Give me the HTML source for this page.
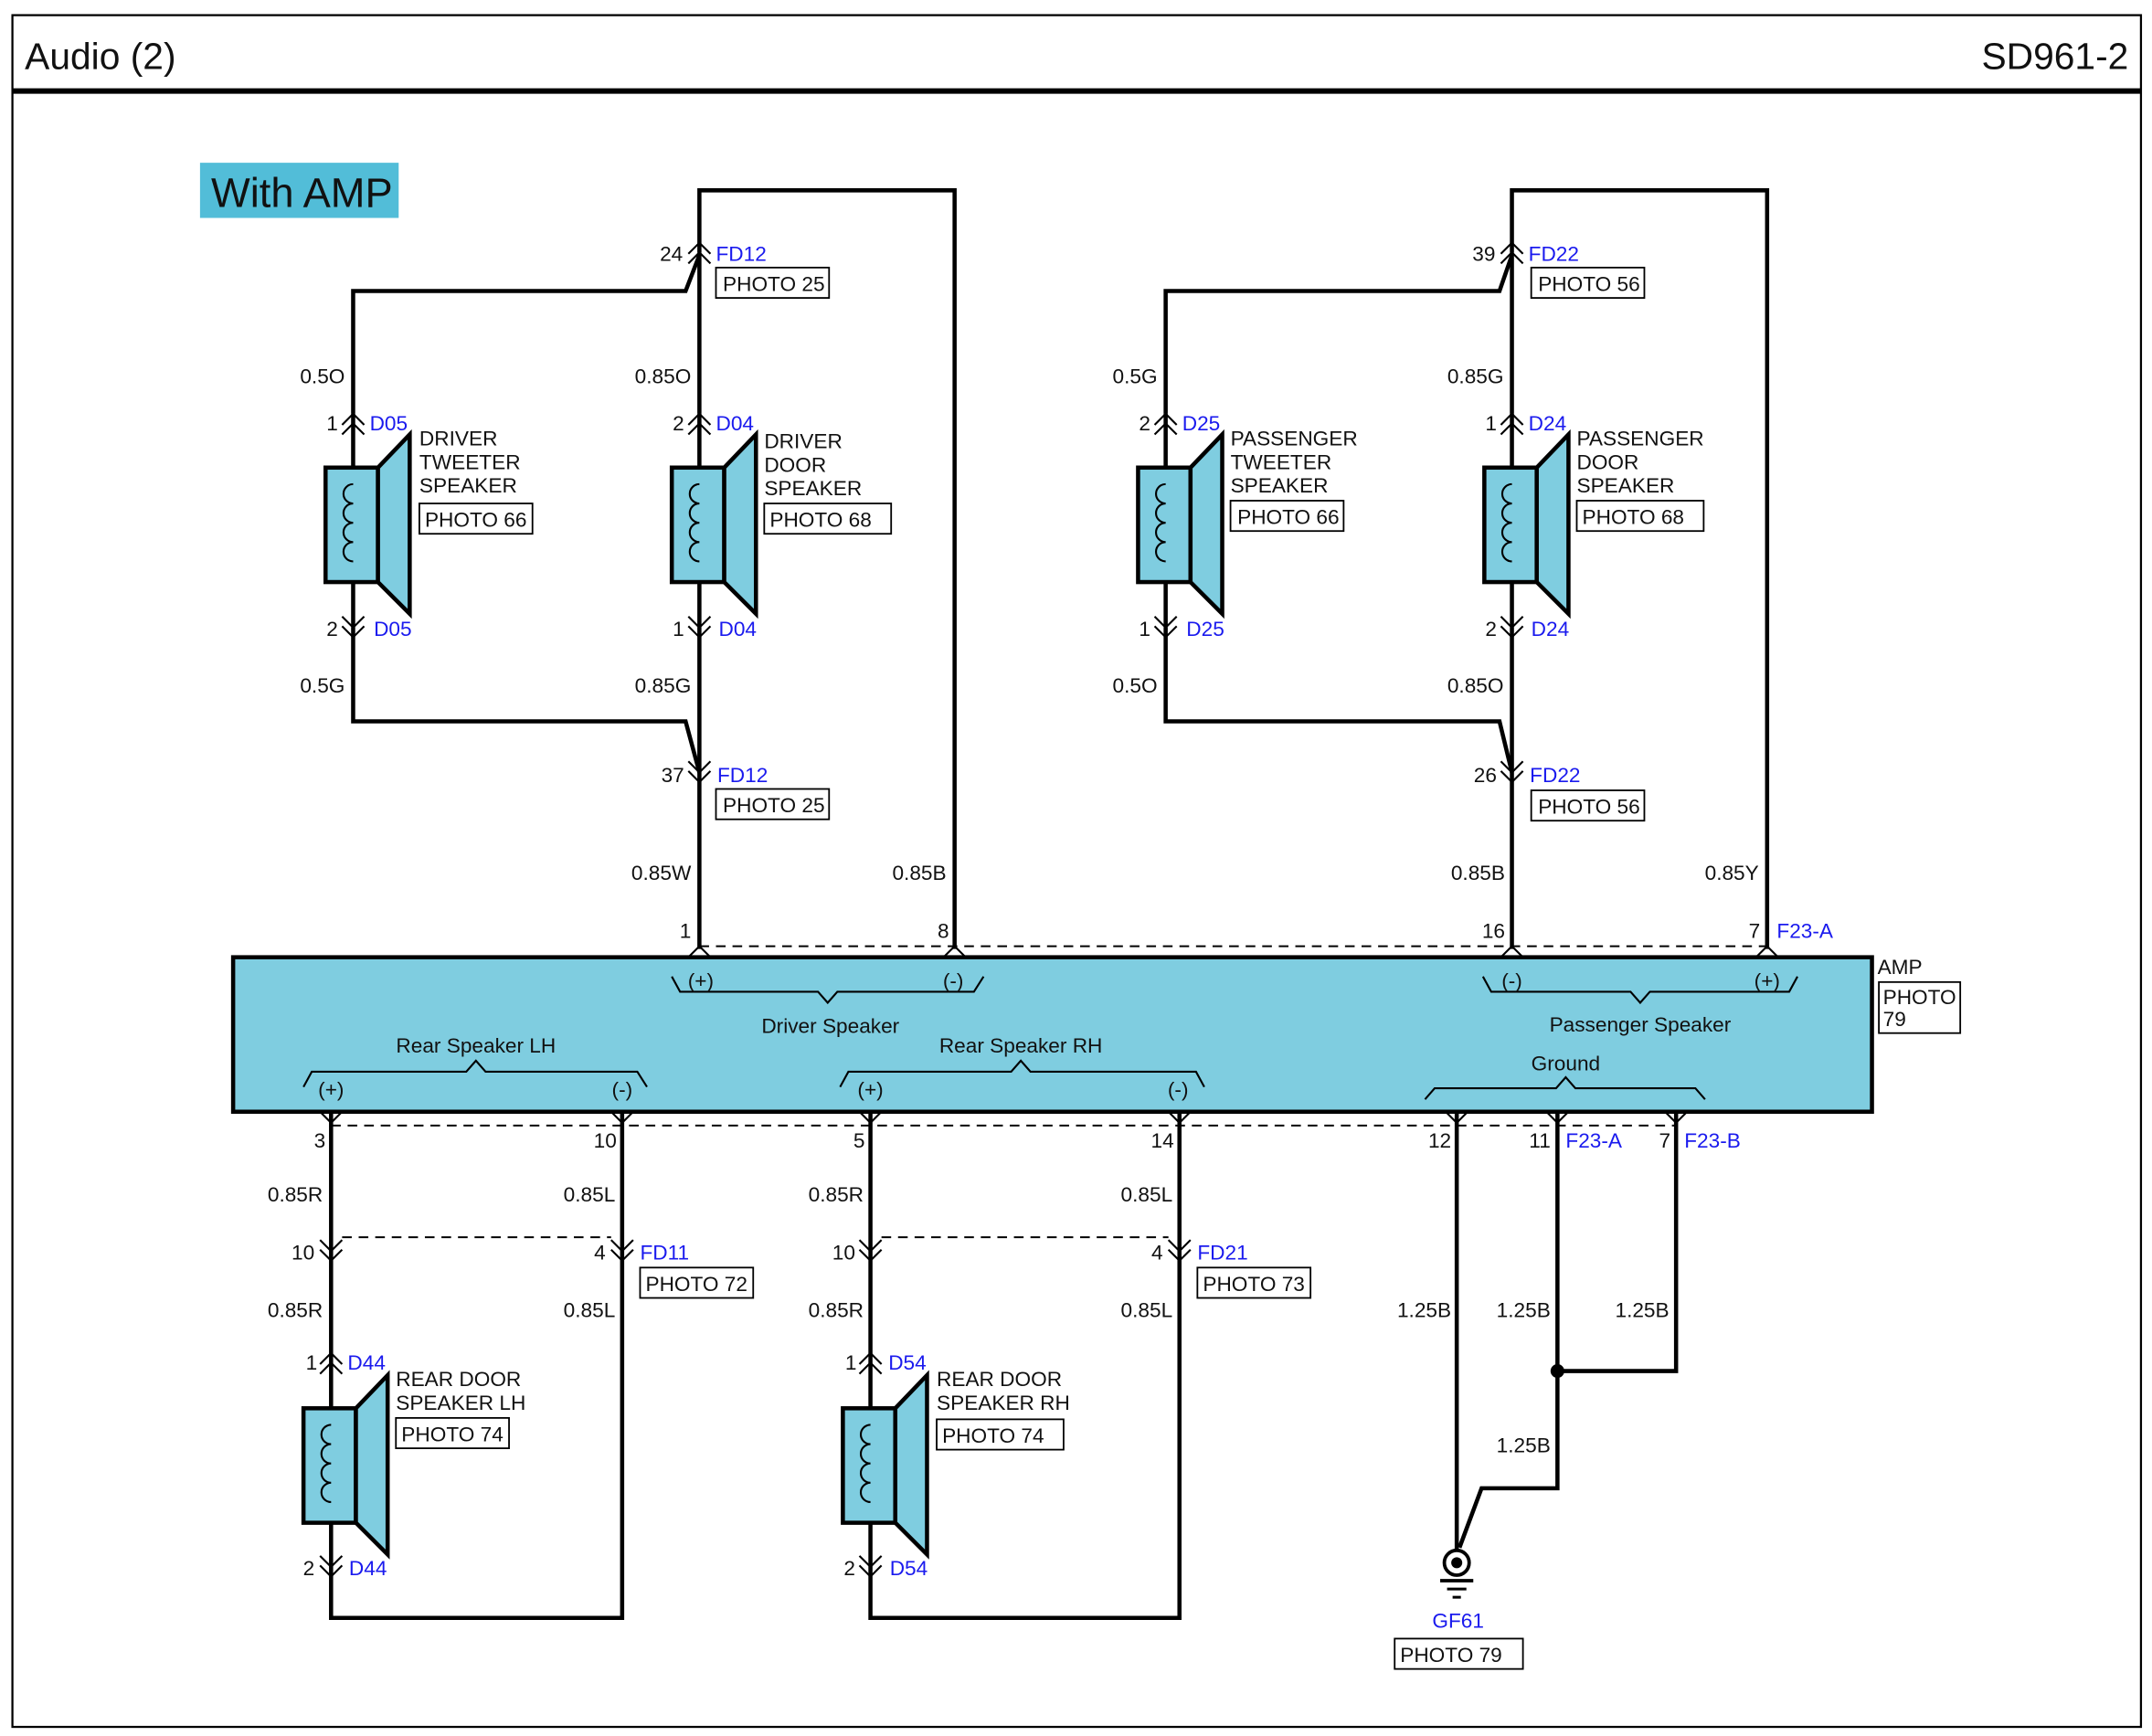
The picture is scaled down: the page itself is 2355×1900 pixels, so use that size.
<!DOCTYPE html>
<html><head><meta charset="utf-8"><style>
html,body{margin:0;padding:0;background:#fff}
svg{display:block}
text{font-family:"Liberation Sans",sans-serif;font-size:15px;fill:#111}
.b{fill:#1a1aee}
.w{fill:none;stroke:#000;stroke-width:3}
.t{fill:none;stroke:#000;stroke-width:1.4}
.d{fill:none;stroke:#000;stroke-width:1.3;stroke-dasharray:7 5}
.bx{fill:#fff;stroke:#000;stroke-width:1.2}
.r{text-anchor:end}
.m{text-anchor:middle}
</style></head><body>
<svg width="2355" height="1900" viewBox="0 0 1560 1258.6" preserveAspectRatio="none" xmlns="http://www.w3.org/2000/svg">
<defs>
<g id="up"><polyline class="t" points="-8,8 0,0 8,8"/><polyline class="t" points="-8,15 0,7 8,15"/></g>
<g id="dn"><polyline class="t" points="-8,-15 0,-7 8,-15"/><polyline class="t" points="-8,-8 0,0 8,-8"/></g>
<g id="spk">
<rect x="-20" y="0" width="38" height="83" fill="#7fcde0" stroke="#000" stroke-width="3"/>
<polygon points="18,0 41,-24 41,106 18,83" fill="#7fcde0" stroke="#000" stroke-width="3"/>
<path class="t" d="M0,12 a7,7 0 0 0 0,14 a7,7 0 0 0 0,14 a7,7 0 0 0 0,14 a7,7 0 0 0 0,14"/>
</g>
</defs>
<rect x="9" y="11" width="1543" height="1241" fill="none" stroke="#000" stroke-width="1.5"/>
<line x1="9" y1="66" x2="1552" y2="66" stroke="#000" stroke-width="4"/>
<text x="18" y="50" style="font-size:27px">Audio (2)</text>
<text x="1543" y="50" class="r" style="font-size:27px">SD961-2</text>
<rect x="145" y="118" width="144" height="40" fill="#52bdd8"/>
<text x="153" y="150" style="font-size:30px">With AMP</text>

<!-- DRIVER -->
<polyline class="w" points="256,300 256,211 497,211 507,185"/>
<polyline class="w" points="507,183 507,138 692,138 692,688"/>
<line class="w" x1="507" y1="183" x2="507" y2="300"/>
<polyline class="w" points="256,455 256,523 497,523 507,560"/>
<line class="w" x1="507" y1="455" x2="507" y2="688"/>
<line class="w" x1="256" y1="300" x2="256" y2="455"/>
<line class="w" x1="507" y1="300" x2="507" y2="455"/>
<use href="#spk" x="256" y="339"/>
<use href="#spk" x="507" y="339"/>
<use href="#up" x="256" y="300"/><use href="#up" x="507" y="300"/>
<use href="#dn" x="256" y="462"/><use href="#dn" x="507" y="462"/>
<use href="#up" x="507" y="176"/><use href="#dn" x="507" y="567"/>
<text x="495" y="189" class="r">24</text><text x="519" y="189" class="b">FD12</text>
<rect class="bx" x="519" y="194" width="82" height="22"/><text x="524" y="211">PHOTO 25</text>
<text x="250" y="278" class="r">0.5O</text><text x="501" y="278" class="r">0.85O</text>
<text x="245" y="312" class="r">1</text><text x="268" y="312" class="b">D05</text>
<text x="496" y="312" class="r">2</text><text x="519" y="312" class="b">D04</text>
<text x="245" y="461" class="r">2</text><text x="271" y="461" class="b">D05</text>
<text x="496" y="461" class="r">1</text><text x="521" y="461" class="b">D04</text>
<text x="250" y="502" class="r">0.5G</text><text x="501" y="502" class="r">0.85G</text>
<text x="496" y="567" class="r">37</text><text x="520" y="567" class="b">FD12</text>
<rect class="bx" x="519" y="572" width="82" height="22"/><text x="524" y="589">PHOTO 25</text>
<text x="304" y="323">DRIVER</text><text x="304" y="340">TWEETER</text><text x="304" y="357">SPEAKER</text>
<rect class="bx" x="304" y="365" width="82" height="22"/><text x="308" y="382">PHOTO 66</text>
<text x="554" y="325">DRIVER</text><text x="554" y="342">DOOR</text><text x="554" y="359">SPEAKER</text>
<rect class="bx" x="554" y="365" width="92" height="22"/><text x="558" y="382">PHOTO 68</text>
<text x="501" y="638" class="r">0.85W</text><text x="686" y="638" class="r">0.85B</text>
<text x="501" y="680" class="r">1</text><text x="688" y="680" class="r">8</text>

<!-- PASSENGER -->
<polyline class="w" points="845,300 845,211 1087,211 1096,185"/>
<polyline class="w" points="1096,183 1096,138 1281,138 1281,688"/>
<line class="w" x1="1096" y1="183" x2="1096" y2="300"/>
<polyline class="w" points="845,455 845,523 1087,523 1096,560"/>
<line class="w" x1="1096" y1="455" x2="1096" y2="688"/>
<line class="w" x1="845" y1="300" x2="845" y2="455"/>
<line class="w" x1="1096" y1="300" x2="1096" y2="455"/>
<use href="#spk" x="845" y="339"/>
<use href="#spk" x="1096" y="339"/>
<use href="#up" x="845" y="300"/><use href="#up" x="1096" y="300"/>
<use href="#dn" x="845" y="462"/><use href="#dn" x="1096" y="462"/>
<use href="#up" x="1096" y="176"/><use href="#dn" x="1096" y="567"/>
<text x="1084" y="189" class="r">39</text><text x="1108" y="189" class="b">FD22</text>
<rect class="bx" x="1110" y="194" width="82" height="22"/><text x="1115" y="211">PHOTO 56</text>
<text x="839" y="278" class="r">0.5G</text><text x="1090" y="278" class="r">0.85G</text>
<text x="834" y="312" class="r">2</text><text x="857" y="312" class="b">D25</text>
<text x="1085" y="312" class="r">1</text><text x="1108" y="312" class="b">D24</text>
<text x="834" y="461" class="r">1</text><text x="860" y="461" class="b">D25</text>
<text x="1085" y="461" class="r">2</text><text x="1110" y="461" class="b">D24</text>
<text x="839" y="502" class="r">0.5O</text><text x="1090" y="502" class="r">0.85O</text>
<text x="1085" y="567" class="r">26</text><text x="1109" y="567" class="b">FD22</text>
<rect class="bx" x="1110" y="573" width="82" height="22"/><text x="1115" y="590">PHOTO 56</text>
<text x="892" y="323">PASSENGER</text><text x="892" y="340">TWEETER</text><text x="892" y="357">SPEAKER</text>
<rect class="bx" x="892" y="363" width="82" height="22"/><text x="897" y="380">PHOTO 66</text>
<text x="1143" y="323">PASSENGER</text><text x="1143" y="340">DOOR</text><text x="1143" y="357">SPEAKER</text>
<rect class="bx" x="1143" y="363" width="92" height="22"/><text x="1147" y="380">PHOTO 68</text>
<text x="1091" y="638" class="r">0.85B</text><text x="1275" y="638" class="r">0.85Y</text>
<text x="1091" y="680" class="r">16</text><text x="1276" y="680" class="r">7</text><text x="1288" y="680" class="b">F23-A</text>

<!-- AMP -->
<line class="d" x1="507" y1="686" x2="1281" y2="686"/>
<rect x="169" y="694" width="1188" height="112" fill="#7fcde0" stroke="#000" stroke-width="3"/>
<polyline class="t" points="499,694 507,686 515,694"/><polyline class="t" points="684,694 692,686 700,694"/>
<polyline class="t" points="1088,694 1096,686 1104,694"/><polyline class="t" points="1273,694 1281,686 1289,694"/>
<text x="1361" y="706">AMP</text>
<rect class="bx" x="1362" y="712" width="59" height="37"/><text x="1365" y="728">PHOTO</text><text x="1365" y="744">79</text>
<polyline class="t" points="487,708 493,719 593,719 600,727 607,719 706,719 713,708"/>
<text x="508" y="716" class="m">(+)</text><text x="691" y="716" class="m">(-)</text>
<text x="602" y="749" class="m">Driver Speaker</text>
<polyline class="t" points="1075,708 1081,719 1182,719 1189,727 1196,719 1297,719 1303,708"/>
<text x="1096" y="716" class="m">(-)</text><text x="1281" y="716" class="m">(+)</text>
<text x="1189" y="748" class="m">Passenger Speaker</text>
<text x="345" y="763" class="m">Rear Speaker LH</text>
<polyline class="t" points="220,788 226,777 338,777 345,769 352,777 462,777 469,788"/>
<text x="240" y="795" class="m">(+)</text><text x="451" y="795" class="m">(-)</text>
<text x="740" y="763" class="m">Rear Speaker RH</text>
<polyline class="t" points="609,788 615,777 733,777 740,769 747,777 867,777 873,788"/>
<text x="631" y="795" class="m">(+)</text><text x="854" y="795" class="m">(-)</text>
<text x="1135" y="776" class="m">Ground</text>
<polyline class="t" points="1033,797 1040,789 1128,789 1135,781 1142,789 1229,789 1236,797"/>

<!-- bottom pins -->
<line class="d" x1="240" y1="816" x2="1215" y2="816"/>
<g class="t">
<polyline class="t" points="232,806 240,814 248,806"/><polyline class="t" points="443,806 451,814 459,806"/>
<polyline class="t" points="623,806 631,814 639,806"/><polyline class="t" points="847,806 855,814 863,806"/>
<polyline class="t" points="1048,806 1056,814 1064,806"/><polyline class="t" points="1121,806 1129,814 1137,806"/>
<polyline class="t" points="1207,806 1215,814 1223,806"/>
</g>
<text x="236" y="832" class="r">3</text><text x="447" y="832" class="r">10</text>
<text x="627" y="832" class="r">5</text><text x="851" y="832" class="r">14</text>
<text x="1052" y="832" class="r">12</text><text x="1124" y="832" class="r">11</text><text x="1135" y="832" class="b">F23-A</text>
<text x="1211" y="832" class="r">7</text><text x="1221" y="832" class="b">F23-B</text>

<!-- rear LH -->
<line class="w" x1="240" y1="806" x2="240" y2="1135"/>
<polyline class="w" points="451,806 451,1173 240,1173 240,1135"/>
<line class="d" x1="248" y1="897" x2="443" y2="897"/>
<use href="#dn" x="240" y="914"/><use href="#dn" x="451" y="914"/>
<text x="234" y="871" class="r">0.85R</text><text x="446" y="871" class="r">0.85L</text>
<text x="228" y="913" class="r">10</text><text x="439" y="913" class="r">4</text><text x="464" y="913" class="b">FD11</text>
<rect class="bx" x="464" y="919" width="82" height="22"/><text x="468" y="936">PHOTO 72</text>
<text x="234" y="955" class="r">0.85R</text><text x="446" y="955" class="r">0.85L</text>
<use href="#spk" x="240" y="1021"/>
<use href="#up" x="240" y="981"/><use href="#dn" x="240" y="1143"/>
<text x="230" y="993" class="r">1</text><text x="252" y="993" class="b">D44</text>
<text x="228" y="1142" class="r">2</text><text x="253" y="1142" class="b">D44</text>
<text x="287" y="1005">REAR DOOR</text><text x="287" y="1022">SPEAKER LH</text>
<rect class="bx" x="287" y="1028" width="82" height="22"/><text x="291" y="1045">PHOTO 74</text>

<!-- rear RH -->
<line class="w" x1="631" y1="806" x2="631" y2="1135"/>
<polyline class="w" points="855,806 855,1173 631,1173 631,1135"/>
<line class="d" x1="639" y1="897" x2="847" y2="897"/>
<use href="#dn" x="631" y="914"/><use href="#dn" x="855" y="914"/>
<text x="626" y="871" class="r">0.85R</text><text x="850" y="871" class="r">0.85L</text>
<text x="620" y="913" class="r">10</text><text x="843" y="913" class="r">4</text><text x="868" y="913" class="b">FD21</text>
<rect class="bx" x="868" y="919" width="82" height="22"/><text x="872" y="936">PHOTO 73</text>
<text x="626" y="955" class="r">0.85R</text><text x="850" y="955" class="r">0.85L</text>
<use href="#spk" x="631" y="1021"/>
<use href="#up" x="631" y="981"/><use href="#dn" x="631" y="1143"/>
<text x="621" y="993" class="r">1</text><text x="644" y="993" class="b">D54</text>
<text x="620" y="1142" class="r">2</text><text x="645" y="1142" class="b">D54</text>
<text x="679" y="1005">REAR DOOR</text><text x="679" y="1022">SPEAKER RH</text>
<rect class="bx" x="679" y="1029" width="92" height="22"/><text x="683" y="1046">PHOTO 74</text>

<!-- ground -->
<line class="w" x1="1056" y1="806" x2="1056" y2="1124"/>
<polyline class="w" points="1129,806 1129,1079 1074,1079 1058,1122"/>
<polyline class="w" points="1129,994 1215,994 1215,806"/>
<circle cx="1129" cy="994" r="5" fill="#000"/>
<text x="1052" y="955" class="r">1.25B</text><text x="1124" y="955" class="r">1.25B</text>
<text x="1210" y="955" class="r">1.25B</text><text x="1124" y="1053" class="r">1.25B</text>
<circle cx="1056" cy="1133" r="9" fill="#fff" stroke="#000" stroke-width="2.5"/>
<circle cx="1056" cy="1133" r="4" fill="#000"/>
<line x1="1044" y1="1146" x2="1068" y2="1146" stroke="#000" stroke-width="2.5"/>
<line x1="1049" y1="1152" x2="1063" y2="1152" stroke="#000" stroke-width="2"/>
<line x1="1053" y1="1158" x2="1059" y2="1158" stroke="#000" stroke-width="2"/>
<text x="1057" y="1180" class="m b">GF61</text>
<rect class="bx" x="1011" y="1188" width="93" height="22"/><text x="1015" y="1205">PHOTO 79</text>
</svg>
</body></html>
